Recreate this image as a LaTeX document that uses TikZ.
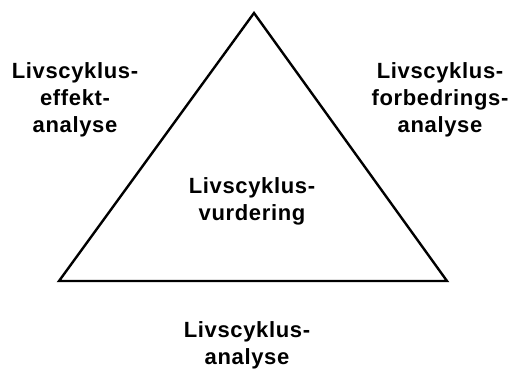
\documentclass[tikz,border=0pt]{standalone}
\usepackage{fontspec}
\setmainfont{Liberation Sans}[LetterSpace=3]
\begin{document}
\begin{tikzpicture}[x=1pt,y=-1pt,
  lbl/.style={align=center,font=\fontsize{22}{27}\selectfont\bfseries,inner sep=0pt},
  tri/.style={line width=2.4pt,line join=miter}]
\useasboundingbox (0,0) rectangle (516,368);
\coordinate (top) at (254,13);
\coordinate (bl) at (59,281);
\coordinate (br) at (447,281);
\draw[tri] (bl) -- (top) -- (br) -- cycle;
\node[lbl] (effekt) at (75,100) {Livscyklus-\\effekt-\\analyse};
\node[lbl] (forb) at (440,100) {Livscyklus-\\forbedrings-\\analyse};
\node[lbl] (vurd) at (252,201) {Livscyklus-\\vurdering};
\node[lbl] (anal) at (247,345) {Livscyklus-\\analyse};
\end{tikzpicture}
\end{document}
